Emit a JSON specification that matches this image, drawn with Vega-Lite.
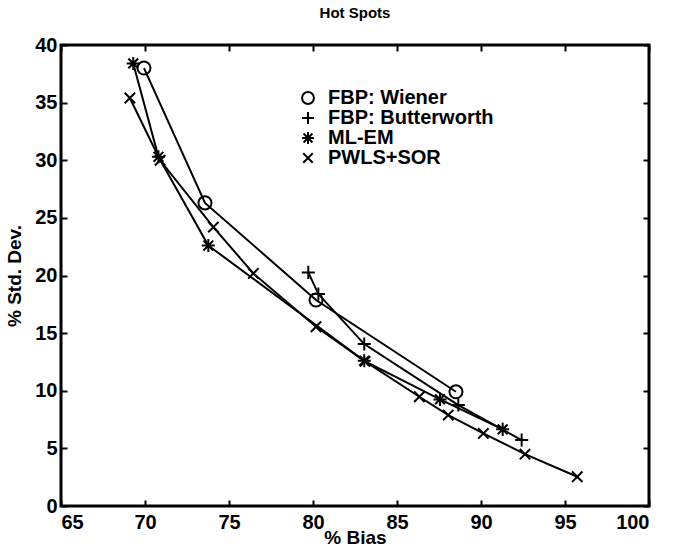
{
  "$schema": "https://vega.github.io/schema/vega-lite/v6.json",
  "width": 588,
  "height": 461,
  "autosize": "none",
  "padding": {"left": 61, "top": 45, "right": 31, "bottom": 47},
  "background": "white",
  "config": {
    "view": {"stroke": "black", "strokeWidth": 3},
    "font": "Liberation Sans",
    "axis": {
      "grid": false,
      "domain": false,
      "tickColor": "black",
      "tickWidth": 2,
      "tickSize": -6,
      "labelFont": "Liberation Sans",
      "labelFontWeight": "bold",
      "labelFontSize": 20,
      "labelColor": "black",
      "titleFont": "Liberation Sans",
      "titleFontWeight": "bold",
      "titleFontSize": 19,
      "titleColor": "black"
    }
  },
  "title": {"text": "Hot Spots", "font": "Liberation Sans", "fontWeight": "bold", "fontSize": 15, "offset": 14, "color": "black"},
  "data": {
    "values": [
      {"series": "FBP: Wiener", "bias": 69.94, "std": 38.0},
      {"series": "FBP: Wiener", "bias": 73.57, "std": 26.3},
      {"series": "FBP: Wiener", "bias": 80.18, "std": 17.87},
      {"series": "FBP: Wiener", "bias": 88.51, "std": 9.91},
      {"series": "FBP: Butterworth", "bias": 79.72, "std": 20.27},
      {"series": "FBP: Butterworth", "bias": 80.32, "std": 18.39},
      {"series": "FBP: Butterworth", "bias": 83.05, "std": 14.05},
      {"series": "FBP: Butterworth", "bias": 88.65, "std": 8.76},
      {"series": "FBP: Butterworth", "bias": 92.42, "std": 5.72},
      {"series": "ML-EM", "bias": 69.3, "std": 38.4},
      {"series": "ML-EM", "bias": 70.8, "std": 30.3},
      {"series": "ML-EM", "bias": 73.77, "std": 22.6},
      {"series": "ML-EM", "bias": 83.05, "std": 12.6},
      {"series": "ML-EM", "bias": 87.56, "std": 9.25},
      {"series": "ML-EM", "bias": 91.29, "std": 6.65},
      {"series": "PWLS+SOR", "bias": 69.1, "std": 35.4},
      {"series": "PWLS+SOR", "bias": 70.9, "std": 30.0},
      {"series": "PWLS+SOR", "bias": 74.07, "std": 24.2},
      {"series": "PWLS+SOR", "bias": 76.45, "std": 20.18},
      {"series": "PWLS+SOR", "bias": 80.18, "std": 15.55},
      {"series": "PWLS+SOR", "bias": 83.1, "std": 12.55},
      {"series": "PWLS+SOR", "bias": 86.33, "std": 9.48},
      {"series": "PWLS+SOR", "bias": 88.05, "std": 7.89},
      {"series": "PWLS+SOR", "bias": 90.14, "std": 6.3},
      {"series": "PWLS+SOR", "bias": 92.62, "std": 4.5},
      {"series": "PWLS+SOR", "bias": 95.73, "std": 2.54}
    ]
  },
  "layer": [
    {
      "mark": {"type": "line", "color": "black", "strokeWidth": 2},
      "encoding": {
        "x": {"field": "bias", "type": "quantitative", "scale": {"domain": [65, 100], "nice": false, "zero": false},
              "axis": {"title": "% Bias", "values": [65, 70, 75, 80, 85, 90, 95, 100], "labelPadding": 12, "titlePadding": -4}},
        "y": {"field": "std", "type": "quantitative", "scale": {"domain": [0, 40], "nice": false},
              "axis": {"title": "% Std. Dev.", "values": [0, 5, 10, 15, 20, 25, 30, 35, 40], "labelPadding": 10, "titlePadding": 10}},
        "detail": {"field": "series"}
      }
    },
    {
      "mark": {"type": "point", "filled": false, "stroke": "black", "strokeWidth": 2, "size": 170, "opacity": 1},
      "encoding": {
        "x": {"field": "bias", "type": "quantitative", "scale": {"domain": [65, 100], "nice": false, "zero": false},
              "axis": {"orient": "top", "labels": false, "title": null, "values": [65, 70, 75, 80, 85, 90, 95, 100]}},
        "y": {"field": "std", "type": "quantitative", "scale": {"domain": [0, 40], "nice": false},
              "axis": {"orient": "right", "labels": false, "title": null, "values": [0, 5, 10, 15, 20, 25, 30, 35, 40]}},
        "shape": {
          "field": "series", "type": "nominal",
          "scale": {"domain": ["FBP: Wiener", "FBP: Butterworth", "ML-EM", "PWLS+SOR"],
                    "range": ["circle", "M-1,0H1M0,-1V1", "M-1,0H1M0,-1V1M-0.75,-0.75L0.75,0.75M-0.75,0.75L0.75,-0.75", "M-0.8,-0.8L0.8,0.8M-0.8,0.8L0.8,-0.8"]},
          "legend": {
            "title": null, "orient": "none", "legendX": 237, "legendY": 43,
            "symbolStrokeColor": "black", "symbolStrokeWidth": 2, "symbolFillColor": "transparent", "symbolSize": 140,
            "labelFont": "Liberation Sans", "labelFontWeight": "bold", "labelFontSize": 20, "labelColor": "black",
            "labelOffset": 10, "labelLimit": 400, "rowPadding": -3, "padding": 0
          }
        }
      }
    }
  ],
  "resolve": {"axis": {"x": "independent", "y": "independent"}}
}
